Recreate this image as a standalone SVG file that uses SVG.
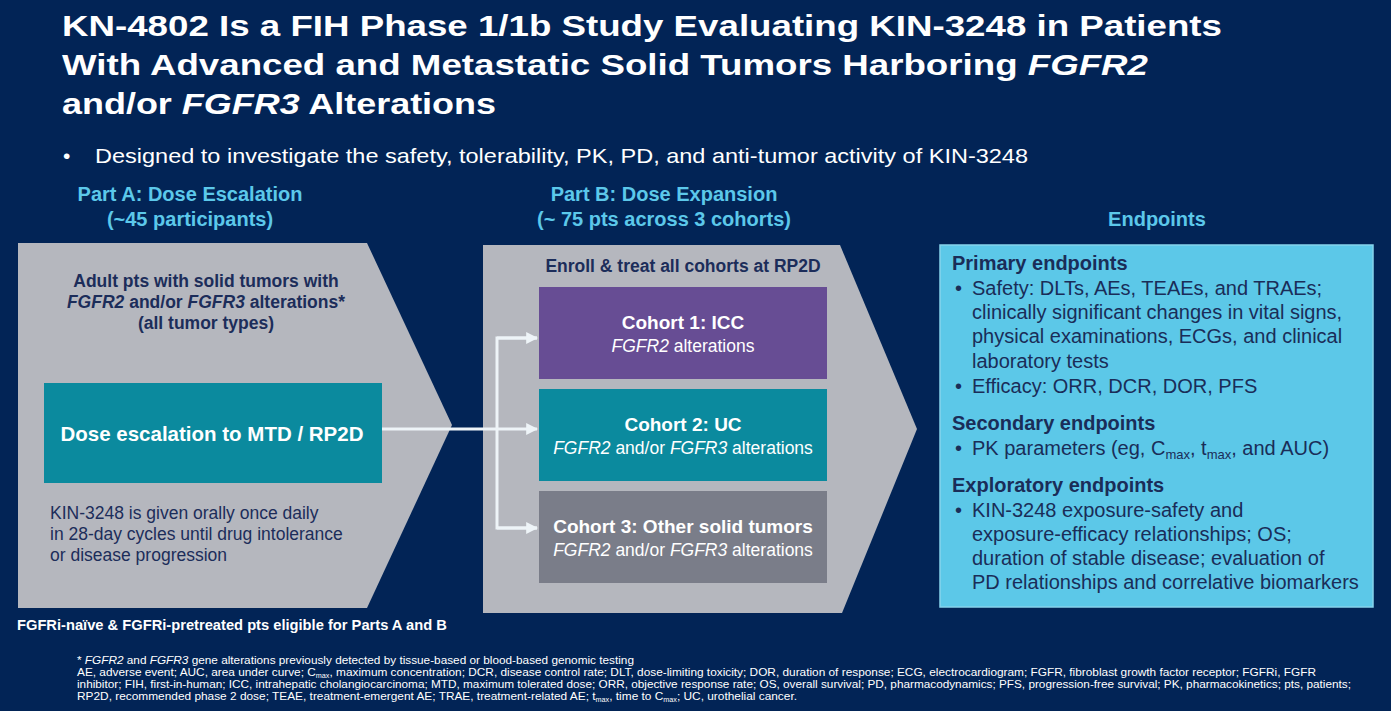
<svg xmlns="http://www.w3.org/2000/svg" width="1391" height="711" viewBox="0 0 1391 711">
<defs>
<style>
text{font-family:"Liberation Sans",Arial,sans-serif}
.t{fill:#ffffff;font-weight:bold;font-size:30px}
.hd{fill:#5cc8ea;font-weight:bold;font-size:20px;text-anchor:middle}
.nv{fill:#1c2d5a}
.b{font-weight:bold}
.i{font-style:italic}
.wh{fill:#ffffff}
.ep{fill:#1a2d58;font-size:20px}
.fn{fill:#ffffff;font-size:11.5px}
.conn{stroke:#eef4f8;stroke-width:3;fill:none}
</style>
<marker id="ah" viewBox="0 0 10 10" refX="9" refY="5" markerWidth="4" markerHeight="4" orient="auto" markerUnits="strokeWidth">
<path d="M0,0 L10,5 L0,10 z" fill="#eef4f8"/>
</marker>
</defs>
<rect width="1391" height="711" fill="#022456"/>

<g id="title">
<text class="t" x="62" y="36" textLength="1160" lengthAdjust="spacingAndGlyphs">KN-4802 Is a FIH Phase 1/1b Study Evaluating KIN-3248 in Patients</text>
<text class="t" x="62" y="75" textLength="1086" lengthAdjust="spacingAndGlyphs">With Advanced and Metastatic Solid Tumors Harboring <tspan class="i">FGFR2</tspan></text>
<text class="t" x="62" y="114" textLength="434" lengthAdjust="spacingAndGlyphs">and/or <tspan class="i">FGFR3</tspan> Alterations</text>
</g>
<g id="bullet">
<text x="63" y="163" fill="#ffffff" font-size="21">•</text>
<text x="95" y="163" fill="#ffffff" font-size="21" textLength="933" lengthAdjust="spacingAndGlyphs">Designed to investigate the safety, tolerability, PK, PD, and anti-tumor activity of KIN-3248</text>
</g>

<g id="headers">
<text class="hd" x="190" y="201">Part A: Dose Escalation</text>
<text class="hd" x="190" y="226">(~45 participants)</text>
<text class="hd" x="664" y="201">Part B: Dose Expansion</text>
<text class="hd" x="664" y="226">(~ 75 pts across 3 cohorts)</text>
<text class="hd" x="1157" y="226">Endpoints</text>
</g>

<g id="partA">
<polygon points="18,243 367,243 452,425 367,608 18,608" fill="#b5b7be"/>
<text class="nv b" font-size="17.5" text-anchor="middle" x="206" y="287">Adult pts with solid tumors with</text>
<text class="nv b" font-size="17.5" text-anchor="middle" x="206" y="308"><tspan class="i">FGFR2</tspan> and/or <tspan class="i">FGFR3</tspan> alterations*</text>
<text class="nv b" font-size="17.5" text-anchor="middle" x="206" y="329">(all tumor types)</text>
<text class="nv" font-size="17.5" x="50" y="519">KIN-3248 is given orally once daily</text>
<text class="nv" font-size="17.5" x="50" y="540">in 28-day cycles until drug intolerance</text>
<text class="nv" font-size="17.5" x="50" y="561">or disease progression</text>
</g>
<g id="doseEsc">
<rect x="44" y="383" width="338" height="100" fill="#0b8a9e"/>
<text class="wh b" font-size="20.5" text-anchor="middle" x="212" y="441">Dose escalation to MTD / RP2D</text>
</g>

<g id="partB">
<polygon points="483,245 840,245 917,429 842,613 483,613" fill="#b5b7be"/>
<text class="nv b" font-size="17.5" text-anchor="middle" x="683" y="272">Enroll &amp; treat all cohorts at RP2D</text>
</g>
<g id="cohort1">
<rect x="539" y="287" width="288" height="92" fill="#674d94"/>
<text class="wh b" font-size="19" text-anchor="middle" x="683" y="329">Cohort 1: ICC</text>
<text class="wh" font-size="17.5" text-anchor="middle" x="683" y="352"><tspan class="i">FGFR2</tspan> alterations</text>
</g>
<g id="cohort2">
<rect x="539" y="389" width="288" height="92" fill="#0b8a9e"/>
<text class="wh b" font-size="19" text-anchor="middle" x="683" y="431">Cohort 2: UC</text>
<text class="wh" font-size="17.5" text-anchor="middle" x="683" y="454"><tspan class="i">FGFR2</tspan> and/or <tspan class="i">FGFR3</tspan> alterations</text>
</g>
<g id="cohort3">
<rect x="539" y="491" width="288" height="92" fill="#7a7d89"/>
<text class="wh b" font-size="19" text-anchor="middle" x="683" y="533">Cohort 3: Other solid tumors</text>
<text class="wh" font-size="17.5" text-anchor="middle" x="683" y="556"><tspan class="i">FGFR2</tspan>  and/or <tspan class="i">FGFR3</tspan> alterations</text>
</g>

<g id="connectors">
<line class="conn" x1="382" y1="429" x2="537" y2="429" marker-end="url(#ah)"/>
<polyline class="conn" points="537,338 497,338 497,528 537,528"/>
<line class="conn" x1="497" y1="338" x2="537" y2="338" marker-end="url(#ah)"/>
<line class="conn" x1="497" y1="528" x2="537" y2="528" marker-end="url(#ah)"/>
</g>

<g id="endpoints">
<rect x="940" y="245" width="433" height="362" fill="#5cc8e8" stroke="#86d3ec" stroke-width="1.5"/>
<text class="ep b" x="952" y="270">Primary endpoints</text>
<text class="ep" x="955" y="295">•</text>
<text class="ep" x="972" y="295">Safety: DLTs, AEs, TEAEs, and TRAEs;</text>
<text class="ep" x="972" y="319">clinically significant changes in vital signs,</text>
<text class="ep" x="972" y="343">physical examinations, ECGs, and clinical</text>
<text class="ep" x="972" y="368">laboratory tests</text>
<text class="ep" x="955" y="393">•</text>
<text class="ep" x="972" y="393">Efficacy: ORR, DCR, DOR, PFS</text>
<text class="ep b" x="952" y="430">Secondary endpoints</text>
<text class="ep" x="955" y="455">•</text>
<text class="ep" x="972" y="455">PK parameters (eg, C<tspan font-size="13" dy="4">max</tspan><tspan dy="-4">, t</tspan><tspan font-size="13" dy="4">max</tspan><tspan dy="-4">, and AUC)</tspan></text>
<text class="ep b" x="952" y="492">Exploratory endpoints</text>
<text class="ep" x="955" y="517">•</text>
<text class="ep" x="972" y="517">KIN-3248 exposure-safety and</text>
<text class="ep" x="972" y="541">exposure-efficacy relationships; OS;</text>
<text class="ep" x="972" y="565">duration of stable disease; evaluation of</text>
<text class="ep" x="972" y="589">PD relationships and correlative biomarkers</text>
</g>

<g id="notes">
<text class="wh b" font-size="14.7" x="17" y="630">FGFRi-naïve &amp; FGFRi-pretreated pts eligible for Parts A and B</text>
<text class="fn" x="77" y="664" textLength="557" lengthAdjust="spacingAndGlyphs">* <tspan class="i">FGFR2</tspan> and <tspan class="i">FGFR3</tspan> gene alterations previously detected by tissue-based or blood-based genomic testing</text>
<text class="fn" x="77" y="676" textLength="1239" lengthAdjust="spacingAndGlyphs">AE, adverse event; AUC, area under curve; C<tspan font-size="7" dy="1.5">max</tspan><tspan dy="-1.5">, maximum concentration; DCR, disease control rate; DLT, dose-limiting toxicity; DOR, duration of response; ECG, electrocardiogram; FGFR, fibroblast growth factor receptor; FGFRi, FGFR</tspan></text>
<text class="fn" x="77" y="688" textLength="1274" lengthAdjust="spacingAndGlyphs">inhibitor; FIH, first-in-human; ICC, intrahepatic cholangiocarcinoma; MTD, maximum tolerated dose; ORR, objective response rate; OS, overall survival; PD, pharmacodynamics; PFS, progression-free survival; PK, pharmacokinetics; pts, patients;</text>
<text class="fn" x="77" y="700" textLength="720" lengthAdjust="spacingAndGlyphs">RP2D, recommended phase 2 dose; TEAE, treatment-emergent AE; TRAE, treatment-related AE; t<tspan font-size="7" dy="1.5">max</tspan><tspan dy="-1.5">, time to C</tspan><tspan font-size="7" dy="1.5">max</tspan><tspan dy="-1.5">; UC, urothelial cancer.</tspan></text>
</g>
</svg>
